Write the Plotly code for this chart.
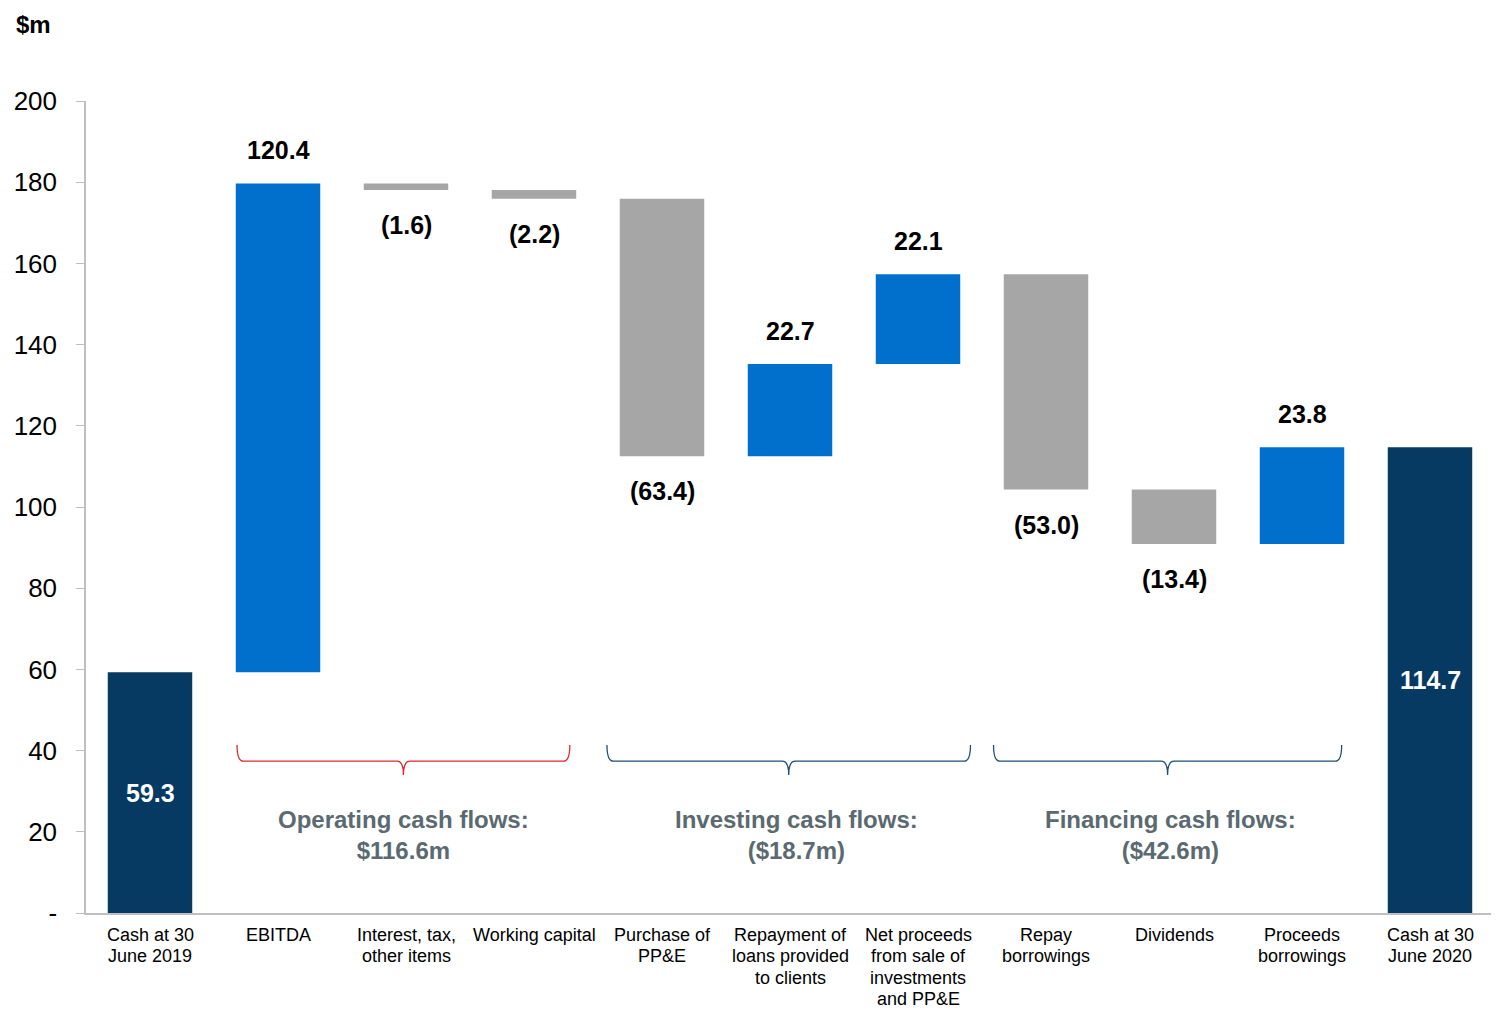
import plotly.graph_objects as go

categories = ["Cash at 30<br>June 2019", "EBITDA", "Interest, tax,<br>other items", "Working capital",
              "Purchase of<br>PP&E", "Repayment of<br>loans provided<br>to clients",
              "Net proceeds<br>from sale of<br>investments<br>and PP&E", "Repay<br>borrowings",
              "Dividends", "Proceeds<br>borrowings", "Cash at 30<br>June 2020"]
amounts = [59.3, 120.4, -1.6, -2.2, -63.4, 22.7, 22.1, -53.0, -13.4, 23.8, 114.7]
kinds = ["total", "rel", "rel", "rel", "rel", "rel", "rel", "rel", "rel", "rel", "total"]
y_ticks = [0, 20, 40, 60, 80, 100, 120, 140, 160, 180, 200]
y_tick_labels = ["-", "20", "40", "60", "80", "100", "120", "140", "160", "180", "200"]
groups = ["Operating cash flows:<br>$116.6m", "Investing cash flows:<br>($18.7m)", "Financing cash flows:<br>($42.6m)"]
group_spans = [(1, 3), (4, 6), (7, 9)]

NAVY = "#063A63"
BLUE = "#0070CD"
GRAY = "#A6A6A6"
FONT = "Liberation Sans, Arial"

xs = list(range(len(categories)))
bases, heights, colors = [], [], []
run = 0.0
for a, k in zip(amounts, kinds):
    if k == "total":
        bases.append(0)
        heights.append(a)
        colors.append(NAVY)
        run = a
    else:
        if a >= 0:
            bases.append(run)
            heights.append(a)
            colors.append(BLUE)
        else:
            bases.append(run + a)
            heights.append(-a)
            colors.append(GRAY)
        run += a

fig = go.Figure()
fig.add_trace(go.Bar(x=xs, y=heights, base=bases, marker=dict(color=colors, line=dict(width=0)),
                     width=0.66, hoverinfo="skip"))

annotations = []
for i, (a, k, b, h) in enumerate(zip(amounts, kinds, bases, heights)):
    txt = f"{a:.1f}" if a >= 0 else f"({-a:.1f})"
    if k == "total":
        annotations.append(dict(x=i, y=b + h / 2, text=txt, showarrow=False,
                                font=dict(color="white", size=25, family=FONT, weight="bold")))
    elif a >= 0:
        annotations.append(dict(x=i, y=b + h, text=txt, showarrow=False, yanchor="bottom", yshift=17,
                                font=dict(color="black", size=25, family=FONT, weight="bold")))
    else:
        annotations.append(dict(x=i, y=b, text=txt, showarrow=False, yanchor="top", yshift=-19,
                                font=dict(color="black", size=25, family=FONT, weight="bold")))

# category labels, line by line (tighter line spacing than plotly tick labels)
for i, cat in enumerate(categories):
    for j, line in enumerate(cat.split("<br>")):
        annotations.append(dict(x=i, y=0, text=line, showarrow=False, yanchor="middle",
                                yshift=-(22 + 21.4 * j),
                                font=dict(color="black", size=18, family=FONT)))

shapes = []
brace_colors = ["#E0282E", "#1F4E79", "#1F4E79"]
brace_pad = [(0.32, 0.28), (0.43, 0.41), (0.41, 0.31)]
title_dx = [0.0, 0.06, 0.02]
y_top, y_mid, y_tip = 41.4, 37.4, 34.0
for (s, e), g, col, (pl, pr), dx in zip(group_spans, groups, brace_colors, brace_pad, title_dx):
    x0 = s - pl
    x1 = e + pr
    tip = (x0 + x1) / 2
    d = 0.05
    path = (f"M {x0},{y_top} Q {x0},{y_mid} {x0+d},{y_mid} L {tip-d},{y_mid} "
            f"Q {tip},{y_mid} {tip},{y_tip} Q {tip},{y_mid} {tip+d},{y_mid} "
            f"L {x1-d},{y_mid} Q {x1},{y_mid} {x1},{y_top}")
    shapes.append(dict(type="path", path=path, xref="x", yref="y",
                       line=dict(color=col, width=1.3)))
    annotations.append(dict(x=tip + dx, y=19.2, text=g, showarrow=False,
                            font=dict(color="#5A6A70", size=24, family=FONT, weight="bold")))

annotations.append(dict(xref="paper", yref="paper", x=-0.037, y=1.0936, xanchor="center", yanchor="middle",
                        text="$m", showarrow=False, borderpad=0,
                        font=dict(color="black", size=24, family=FONT, weight="bold")))

fig.update_layout(
    width=1491, height=1001,
    margin=dict(l=78, r=5, t=93, b=96),
    plot_bgcolor="white", paper_bgcolor="white",
    showlegend=False,
    shapes=shapes,
    annotations=annotations,
    font=dict(family=FONT, color="black"),
    xaxis=dict(tickvals=xs, range=[-0.5, 10.5], showgrid=False, showticklabels=False,
               showline=True, linecolor="#BFBFBF", linewidth=2, ticks="",
               zeroline=False, automargin=False),
    yaxis=dict(range=[0, 200], tickvals=y_ticks, ticktext=y_tick_labels, showgrid=False,
               showline=True, linecolor="#BFBFBF", linewidth=1.5, ticks="outside", ticklen=8,
               tickcolor="#BFBFBF", tickfont=dict(size=26, color="black"), zeroline=False,
               ticklabelstandoff=14, automargin=False),
)

fig.write_html("out.html")
